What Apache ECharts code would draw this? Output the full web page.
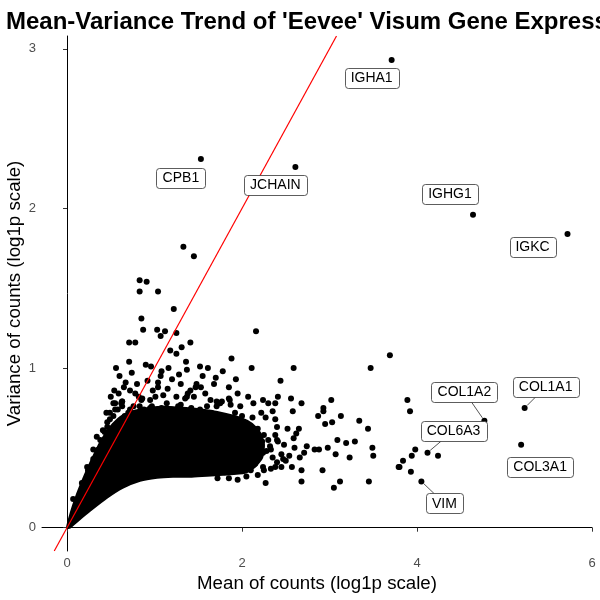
<!DOCTYPE html>
<html><head><meta charset="utf-8">
<script src="https://cdn.jsdelivr.net/npm/echarts@6/dist/echarts.min.js"></script>
<style>html,body{margin:0;padding:0;background:#fff}#c{width:600px;height:600px}</style>
</head><body><div id="c"></div>
<script>
const xTicks = [0, 2, 4, 6];
const yTicks = [0, 1, 2, 3];

// individual genes (mean, variance)
const pointMean = [1.33,1.45,0.83,0.91,0.83,1.04,1.22,0.85,0.87,1.03,1.12,1.07,1.25,0.71,0.78,1.41,1.31,1.18,2.16,3.69,
1.25,0.71,1.36,1.88,0.56,0.90,0.96,1.08,1.07,1.37,1.52,1.61,1.78,0.92,1.04,1.04,0.67,0.65,0.54,0.59,
0.78,1.47,1.53,1.68,1.85,1.41,1.38,1.10,1.25,1.01,0.82,0.86,0.53,0.62,1.85,1.87,1.71,1.75,1.45,1.35,
2.11,2.59,3.47,2.44,2.07,2.13,2.24,2.30,2.41,2.38,2.56,2.68,3.02,2.93,2.93,2.22,2.35,2.58,2.87,3.13,
3.34,2.12,2.27,2.38,2.40,2.95,3.03,3.44,2.52,2.65,2.62,2.59,2.41,3.09,3.19,3.29,2.07,2.23,2.33,2.45,
2.54,2.74,2.71,2.66,2.83,2.88,2.98,3.07,3.23,3.49,3.50,2.33,2.45,2.57,2.68,2.92,2.27,2.68,3.05,3.12,
3.45,3.79,3.89,3.92,3.98,3.94,4.24,3.84,3.80,3.93,
0.55,0.63,0.76,0.85,0.95,0.97,1.14,1.37,1.48,1.86,1.60,1.71,1.77,
0.45,0.49,0.41,0.45,0.36,0.30,0.24,0.23,0.07,0.17,0.23,0.30,0.38,0.46,0.53,0.63,
0.58,0.70,0.88,1.00,1.08,1.20,1.30,1.42,1.52,1.65,1.80,1.92,1.98,2.05,2.18,2.25,2.30,2.20,2.15,2.28,
2.35,2.40,2.25,2.18,2.05,1.95,1.85,2.10,1.72,2.38,2.48,2.50,2.60,0.66,0.78,0.95,1.14,1.35,1.60,1.72,1.88,
0.49,0.46,0.43,0.34,0.55,0.63,0.72,0.83,0.95,0.98,1.18,1.27,1.41,1.52,1.63,1.71,1.83,1.90,1.94,2.06,
2.17,2.24,2.32,2.40,2.47,2.38,2.24,2.13,2.21,2.09,1.55,
0.72,0.80,0.98,1.15,1.20,1.30,1.58,1.64,1.95,1.98,2.00,0.50,0.60,0.74,1.16,1.28,1.55,1.70,1.93];
const pointVar = [1.76,1.70,1.55,1.54,1.48,1.48,1.37,1.31,1.24,1.24,1.23,1.20,1.22,1.16,1.16,1.16,1.13,1.11,1.23,1.08,
1.09,1.04,1.04,1.06,1.00,1.02,1.01,0.98,0.95,0.99,1.01,1.00,0.98,0.92,0.91,0.88,0.91,0.88,0.86,0.84,
0.84,0.88,0.88,0.90,0.88,0.86,0.84,0.83,0.82,0.82,0.82,0.81,0.78,0.78,0.81,0.77,0.79,0.78,0.82,0.81,
1.00,1.00,1.00,0.92,0.82,0.78,0.80,0.78,0.82,0.78,0.81,0.78,0.80,0.75,0.73,0.72,0.73,0.73,0.70,0.70,
0.67,0.69,0.69,0.68,0.63,0.65,0.66,0.62,0.62,0.62,0.59,0.56,0.54,0.55,0.53,0.54,0.58,0.54,0.49,0.46,
0.45,0.51,0.47,0.44,0.49,0.49,0.50,0.46,0.44,0.50,0.45,0.37,0.38,0.38,0.36,0.36,0.28,0.29,0.25,0.29,
0.29,0.38,0.80,0.73,0.49,0.45,0.45,0.42,0.38,0.35,
0.78,0.79,0.76,0.80,0.80,0.76,0.78,0.82,0.90,0.80,0.76,0.76,0.79,
0.72,0.68,0.61,0.54,0.49,0.43,0.36,0.31,0.18,0.28,0.38,0.49,0.55,0.63,0.70,0.76,
0.74,0.72,0.74,0.73,0.75,0.74,0.77,0.75,0.73,0.72,0.70,0.72,0.67,0.64,0.62,0.58,0.55,0.45,0.40,0.48,
0.44,0.41,0.36,0.33,0.32,0.30,0.31,0.36,0.31,0.58,0.52,0.42,0.50,0.70,0.72,0.75,0.72,0.72,0.70,0.68,0.66,
0.72,0.66,0.60,0.57,0.74,0.79,0.74,0.76,0.74,0.70,0.74,0.76,0.74,0.74,0.72,0.68,0.69,0.66,0.60,0.55,
0.51,0.47,0.51,0.55,0.43,0.38,0.38,0.43,0.55,0.61,0.66,
0.86,0.90,0.86,0.87,0.93,0.90,0.84,0.80,0.84,0.76,0.70,0.82,0.95,0.97,1.00,0.96,0.95,0.94,0.93];

// outline of the saturated dense cloud of genes
const coreMean = [0.000,0.046,0.103,0.171,0.240,0.309,0.377,0.446,0.526,0.629,0.777,0.949,1.120,1.291,1.463,1.634,1.806,1.977,2.114,2.206,2.251,2.229,2.149,2.034,1.783,1.600,1.406,1.211,1.029,0.834,0.640,0.457,0.263,0.126,0.034];
const coreVar  = [0.000,0.100,0.194,0.288,0.376,0.457,0.532,0.595,0.651,0.701,0.733,0.752,0.758,0.752,0.745,0.733,0.714,0.689,0.651,0.595,0.520,0.438,0.382,0.344,0.332,0.326,0.319,0.319,0.313,0.294,0.251,0.188,0.106,0.044,0.000];

// labelled genes
const geneNames = ['IGHA1','CPB1','JCHAIN','IGHG1','IGKC','COL1A1','COL1A2','COL6A3','COL3A1','VIM'];
const geneMean  = [3.71,1.53,2.61,4.64,5.72,5.23,4.77,4.12,5.19,4.05];
const geneVar   = [2.93,2.31,2.26,1.96,1.84,0.75,0.67,0.47,0.52,0.29];

// layout of the repelled labels (pixel offsets), not data
const labelOffset = [[-20,18],[-20,19],[-20,18],[-23,-21],[-35,13],[21,-21],[-20,-29],[26,-22],[19,22],[23,22]];
const labelSegment = [false,false,false,false,false,true,true,true,false,true];

const X_MIN = -0.286, X_MAX = 6.0, Y_MIN = -0.146, Y_MAX = 3.08;
const FONT = '"Liberation Sans", Arial, sans-serif';
const LABEL_FONT = '14px "Liberation Sans", Arial, sans-serif';

const mctx = document.createElement('canvas').getContext('2d');
mctx.font = LABEL_FONT;

const chart = echarts.init(document.getElementById('c'), null, {renderer: 'canvas'});

const scatterData = pointMean.map((m, i) => [m, pointVar[i]])
  .concat(geneMean.map((m, i) => [m, geneVar[i]]));

chart.setOption({
  animation: false,
  backgroundColor: '#fff',
  title: {
    text: "Mean-Variance Trend of 'Eevee' Visum Gene Expression",
    left: 1, top: 5,
    textStyle: {fontFamily: FONT, fontSize: 24, fontWeight: 'bold', color: '#000'}
  },
  grid: {left: 42, right: 8, top: 36, bottom: 49, containLabel: false, outerBoundsMode: 'none'},
  xAxis: {
    type: 'value', min: X_MIN, max: X_MAX,
    name: 'Mean of counts (log1p scale)', nameLocation: 'middle', nameGap: 23, nameMoveOverlap: false,
    nameTextStyle: {fontFamily: FONT, fontSize: 18.7, color: '#000'},
    axisLine: {show: true, lineStyle: {color: '#000', width: 1}},
    axisTick: {show: true, customValues: xTicks, length: 4, lineStyle: {color: '#333'}},
    axisLabel: {customValues: xTicks, color: '#4d4d4d', fontSize: 13, fontFamily: FONT, margin: 6},
    splitLine: {show: false}
  },
  yAxis: {
    type: 'value', min: Y_MIN, max: Y_MAX,
    name: 'Variance of counts (log1p scale)', nameLocation: 'middle', nameGap: 18, nameMoveOverlap: false,
    nameTextStyle: {fontFamily: FONT, fontSize: 18.7, color: '#000'},
    axisLine: {show: true, lineStyle: {color: '#000', width: 1}},
    axisTick: {show: true, customValues: yTicks, length: 4, lineStyle: {color: '#333'}},
    axisLabel: {customValues: yTicks, color: '#4d4d4d', fontSize: 13, fontFamily: FONT, margin: 6},
    splitLine: {show: false}
  },
  series: [
    {
      type: 'custom', z: 1, silent: true,
      data: [[coreMean[0], coreVar[0]]],
      renderItem: function (params, api) {
        const pts = coreMean.map((m, i) => api.coord([m, coreVar[i]]));
        return {type: 'polygon', shape: {points: pts, smooth: 0.2}, style: {fill: '#000', stroke: '#000', lineWidth: 2}};
      }
    },
    {
      type: 'scatter', z: 2, silent: true,
      symbol: 'circle', symbolSize: 6,
      itemStyle: {color: '#000', opacity: 1},
      data: scatterData
    },
    {
      type: 'line', z: 3, silent: true, symbol: 'none',
      lineStyle: {color: '#ff0000', width: 1.2},
      data: [[Y_MIN, Y_MIN], [Y_MAX, Y_MAX]]
    },
    {
      type: 'custom', z: 4, silent: true,
      data: geneMean.map((m, i) => [m, geneVar[i]]),
      renderItem: function (params, api) {
        const i = params.dataIndex;
        const p = api.coord([api.value(0), api.value(1)]);
        const off = labelOffset[i];
        const cx = p[0] + off[0], cy = p[1] + off[1];
        const tw = mctx.measureText(geneNames[i]).width;
        const w = Math.round(tw + 12), h = 20;
        const children = [];
        if (labelSegment[i]) {
          const dx = p[0] - cx, dy = p[1] - cy;
          const t = Math.min((w / 2) / Math.abs(dx || 1e-6), (h / 2) / Math.abs(dy || 1e-6));
          const ex = cx + dx * t, ey = cy + dy * t;
          const L = Math.hypot(p[0] - ex, p[1] - ey);
          const sx = p[0] + (ex - p[0]) * (3.5 / L), sy = p[1] + (ey - p[1]) * (3.5 / L);
          children.push({type: 'line', shape: {x1: sx, y1: sy, x2: ex, y2: ey}, style: {stroke: '#555', lineWidth: 1}});
        }
        children.push({
          type: 'rect',
          shape: {x: Math.round(cx - w / 2) + 0.5, y: Math.round(cy - h / 2) + 0.5, width: w, height: h, r: 3},
          style: {fill: '#fff', stroke: '#333', lineWidth: 0.8}
        });
        children.push({
          type: 'text',
          style: {x: cx, y: cy + 0.5, text: geneNames[i], align: 'center', verticalAlign: 'middle',
                  font: LABEL_FONT, fill: '#000'}
        });
        return {type: 'group', children: children};
      }
    }
  ]
});
</script>
</body></html>
